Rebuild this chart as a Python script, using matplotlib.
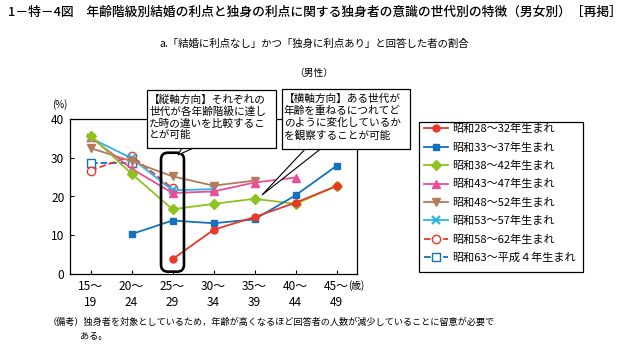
import numpy as np
import matplotlib
matplotlib.use("Agg")
import matplotlib.pyplot as plt
from matplotlib.patches import FancyBboxPatch, Rectangle, Polygon
from matplotlib.transforms import IdentityTransform

plt.rcParams['font.family'] = ['Noto Sans CJK JP', 'DejaVu Sans']

nan = np.nan

# 年齢階級
ages = ['15～\n19', '20～\n24', '25～\n29', '30～\n34', '35～\n39', '40～\n44', '45～\n49']

# 世代別の割合 (%)
s28_32 = [nan, nan, 3.8, 11.4, 14.7, 18.4, 22.7]
s33_37 = [nan, 10.3, 13.8, 13.1, 14.1, 20.3, 27.9]
s38_42 = [35.7, 25.9, 16.7, 18.1, 19.4, 18.1, 22.7]
s43_47 = [35.3, 27.2, 20.9, 21.3, 23.6, 24.9, nan]
s48_52 = [32.5, 29.1, 25.2, 22.8, 24.1, nan, nan]
s53_57 = [35.1, 29.9, 21.6, 21.9, nan, nan, nan]
s58_62 = [26.7, 30.5, 22.1, nan, nan, nan, nan]
s63_h4 = [28.7, 28.7, nan, nan, nan, nan, nan]

labels = ['昭和28～32年生まれ', '昭和33～37年生まれ', '昭和38～42年生まれ',
          '昭和43～47年生まれ', '昭和48～52年生まれ', '昭和53～57年生まれ',
          '昭和58～62年生まれ', '昭和63～平成４年生まれ']

W, H = 631, 357
fig = plt.figure(figsize=(W / 100, H / 100), dpi=100)


def fx(px):
    return px / W


def fy(py):
    return 1 - py / H


ax = fig.add_axes([fx(70), fy(274), fx(357) - fx(70), fy(119) - fy(274)])

x = np.arange(len(ages))
styles = [
    dict(color='#e83828', marker='o', ms=5, ls='-'),
    dict(color='#1570bd', marker='s', ms=5, ls='-'),
    dict(color='#8dc21f', marker='D', ms=5, ls='-'),
    dict(color='#ea4f96', marker='^', ms=6, ls='-'),
    dict(color='#b37a5c', marker='v', ms=6, ls='-'),
    dict(color='#2cb4e8', marker='x', ms=6, ls='-', mew=1.6),
    dict(color='#e83828', marker='o', ms=6, ls='--', mfc='white'),
    dict(color='#1570bd', marker='s', ms=5.5, ls='--', mfc='white'),
]
series = [s28_32, s33_37, s38_42, s43_47, s48_52, s53_57, s58_62, s63_h4]

handles = []
for i, (vals, st, lab) in enumerate(zip(series, styles, labels)):
    vals = np.array(vals, dtype=float)
    m = ~np.isnan(vals)
    h, = ax.plot(x[m], vals[m], lw=1.3, label=lab, zorder=20 - i, **st)
    handles.append(h)

ax.set_xlim(-0.5, 6.5)
ax.set_ylim(0, 40)
ax.set_yticks([0, 10, 20, 30, 40])
ax.set_xticks(x)
ax.set_xticklabels(ages, linespacing=1.3)
ax.tick_params(direction='in', length=3, width=0.8, labelsize=8.6, pad=4)
ax.tick_params(axis='y', pad=4)
for s in ax.spines.values():
    s.set_linewidth(0.9)

fig.text(fx(60), fy(105), '(%)', fontsize=7, ha='center', va='center')
fig.text(fx(348), fy(286), '(歳)', fontsize=7, ha='left', va='center')

# タイトル
fig.text(fx(8), fy(12), '1－特－4図　年齢階級別結婚の利点と独身の利点に関する独身者の意識の世代別の特徴（男女別）［再掲］',
         fontsize=9.2, ha='left', va='center', fontweight='medium')
fig.text(fx(314), fy(44), 'a.「結婚に利点なし」かつ「独身に利点あり」と回答した者の割合',
         fontsize=7.5, ha='center', va='center')
fig.text(fx(314), fy(73), '（男性）', fontsize=7, ha='center', va='center')

# 備考
fig.text(fx(48), fy(322), '（備考）独身者を対象としているため，年齢が高くなるほど回答者の人数が減少していることに留意が必要で',
         fontsize=6.6, ha='left', va='center')
fig.text(fx(80), fy(336), 'ある。', fontsize=6.6, ha='left', va='center')

# 凡例
fig.add_artist(Rectangle((fx(419), fy(272)), fx(583) - fx(419), fy(122) - fy(272),
                         transform=fig.transFigure, fc='white', ec='black', lw=0.9))
leg = fig.legend(handles=handles, loc='upper left', bbox_to_anchor=(fx(424), fy(124)),
                 frameon=False, fontsize=8, handlelength=2.2, handletextpad=0.3,
                 labelspacing=0.72, borderpad=0.0, borderaxespad=0)

# 25～29歳の強調枠
p0 = ax.transData.transform((2 - 0.28, 0.6))
p1 = ax.transData.transform((2 + 0.28, 31.3))
fig.add_artist(FancyBboxPatch((p0[0], p0[1]), p1[0] - p0[0], p1[1] - p0[1],
                              boxstyle='round,pad=0,rounding_size=7',
                              transform=IdentityTransform(), fc='none', ec='black',
                              lw=1.9, zorder=30))

# 吹き出し
tail1 = Polygon([(fx(183), fy(146)), (fx(198), fy(146)), (fx(178), fy(155))],
                closed=True, transform=fig.transFigure, fc='white', ec='black', lw=0.8, zorder=31)
tail2 = Polygon([(fx(307), fy(147)), (fx(323), fy(147)), (fx(262), fy(195))],
                closed=True, transform=fig.transFigure, fc='white', ec='black', lw=0.8, zorder=31)
fig.add_artist(tail1)
fig.add_artist(tail2)

box1 = Rectangle((fx(147), fy(148)), fx(276) - fx(147), fy(90) - fy(148),
                 transform=fig.transFigure, fc='white', ec='black', lw=0.9, zorder=32)
box2 = Rectangle((fx(282), fy(149)), fx(410) - fx(282), fy(89) - fy(149),
                 transform=fig.transFigure, fc='white', ec='black', lw=0.9, zorder=32)
fig.add_artist(box1)
fig.add_artist(box2)

fig.text(fx(149), fy(94), '【縦軸方向】それぞれの\n世代が各年齢階級に達し\nた時の違いを比較するこ\nとが可能',
         fontsize=7.7, ha='left', va='top', linespacing=1.2, zorder=33)
fig.text(fx(284), fy(94), '【横軸方向】ある世代が\n年齢を重ねるにつれてど\nのように変化しているか\nを観察することが可能',
         fontsize=7.7, ha='left', va='top', linespacing=1.2, zorder=33)

fig.savefig('out.png', dpi=100)
